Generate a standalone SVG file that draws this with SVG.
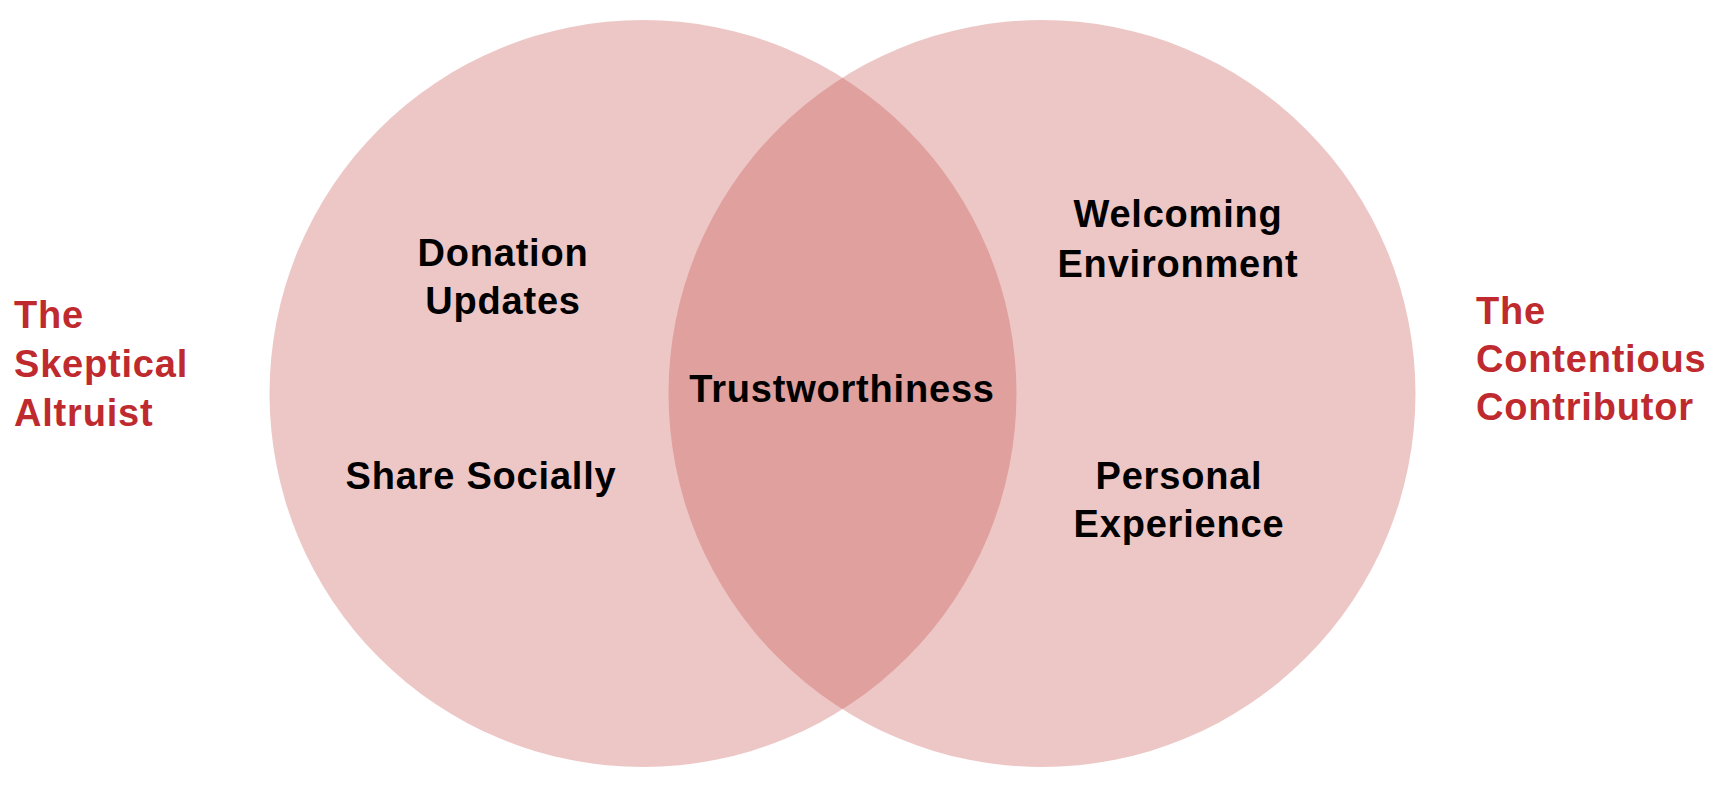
<svg xmlns="http://www.w3.org/2000/svg" width="1723" height="789" viewBox="0 0 1723 789">
<style>
.set{fill:rgb(197,68,66);fill-opacity:0.3}
.t{font-family:"Liberation Sans",Arial,sans-serif;font-weight:bold;font-size:38px;letter-spacing:0.8px;fill:#000}
.c{text-anchor:middle}
.r{fill:#BF2A2E}
</style>
<rect width="1723" height="789" fill="#fff"/>
<g id="set-left"><circle class="set" cx="643" cy="393.5" r="373.5"/></g>
<g id="set-right"><circle class="set" cx="1042" cy="393.5" r="373.5"/></g>
<g id="connectors"></g>
<g id="label-left">
<text class="t r" x="14" y="328">The</text>
<text class="t r" x="14" y="377">Skeptical</text>
<text class="t r" x="14" y="426">Altruist</text>
</g>
<g id="label-right">
<text class="t r" x="1476" y="324">The</text>
<text class="t r" x="1476" y="372">Contentious</text>
<text class="t r" x="1476" y="420">Contributor</text>
</g>
<g id="donation-updates">
<text class="t c" x="503" y="266">Donation</text>
<text class="t c" x="503" y="314">Updates</text>
</g>
<g id="share-socially"><text class="t c" x="481" y="489">Share Socially</text></g>
<g id="trustworthiness"><text class="t c" x="842" y="402">Trustworthiness</text></g>
<g id="welcoming-environment">
<text class="t c" x="1178" y="227">Welcoming</text>
<text class="t c" x="1178" y="277">Environment</text>
</g>
<g id="personal-experience">
<text class="t c" x="1179" y="489">Personal</text>
<text class="t c" x="1179" y="537">Experience</text>
</g>
</svg>
